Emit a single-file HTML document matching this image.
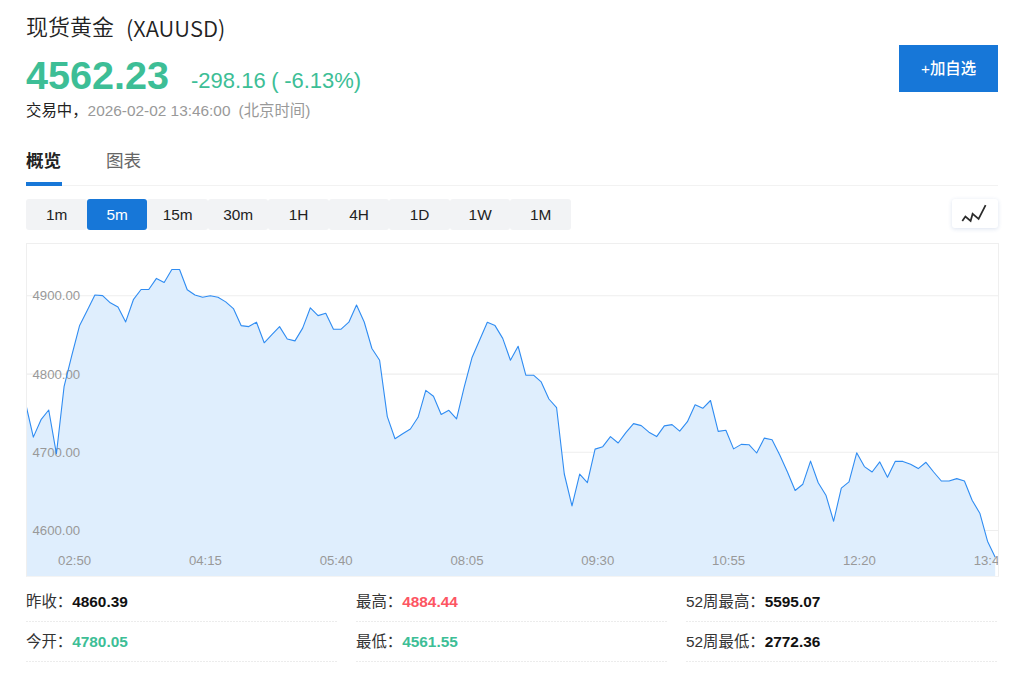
<!DOCTYPE html>
<html lang="zh-CN">
<head>
<meta charset="utf-8">
<title>现货黄金 (XAUUSD)</title>
<style>
*{box-sizing:border-box;margin:0;padding:0}
html,body{width:1024px;height:687px;overflow:hidden;background:#fff}
body{position:relative;font-family:"Liberation Sans","Noto Sans CJK SC",sans-serif;color:#333}
.abs{position:absolute;white-space:nowrap}
.title{left:26px;top:10px;font-size:22px;line-height:30px;color:#222;font-weight:350;font-family:"Noto Sans CJK SC",sans-serif}
.title .code{margin-left:12px;position:relative;top:2px}
.price{left:26px;top:52px;font-size:39.6px;line-height:46px;font-weight:bold;color:#3dbe96}
.chg{left:191px;top:67px;font-size:22px;line-height:28px;color:#3dbe96;word-spacing:-0.5px}
.status{left:26px;top:101px;font-size:15.4px;line-height:20px;color:#222}
.status .t{color:#999}
.status .tz{color:#999;margin-left:8px}
.btn{left:899px;top:45px;width:99px;height:46.5px;background:#1777d8;color:#fff;font-size:15.4px;font-weight:500;line-height:47.5px;text-align:center}
.tabs{left:26px;top:146px;width:972px;height:40px;border-bottom:1px solid #f2f2f2}
.tab{position:absolute;top:1px;font-size:17.6px;line-height:28px}
.tab.on{left:0;color:#222;font-weight:bold}
.tab.off{left:80px;color:#666}
.tab.on:after{content:"";position:absolute;left:0;width:36px;top:35.2px;height:3.4px;background:#1777d8}
.periods{left:26.4px;top:199px;height:30px;display:flex}
.periods span{display:block;width:60.5px;height:30.5px;line-height:32px;text-align:center;font-size:15.4px;color:#222;background:#f2f3f5;border-radius:3px}
.periods span.on{background:#1777d8;color:#fff;border-radius:3px}
.ico{left:952px;top:199px;width:46px;height:29px;background:#fff;border-radius:3px;box-shadow:0 1px 4px rgba(40,80,160,.16)}
.chart{left:26px;top:243px;width:973px;height:334px;border:1px solid #efefef;border-bottom-color:#f4f4f4;overflow:hidden}
.chart svg{position:absolute;left:-1px;top:-1px}
.yl{font-family:"Liberation Sans",sans-serif;font-size:13.2px;fill:#999}
.xl{font-family:"Liberation Sans",sans-serif;font-size:13.2px;fill:#999}
.stats{left:26px;top:582px;width:972px}
.row{position:absolute;height:40px;background:repeating-linear-gradient(to right,#ececec 0 2px,transparent 2px 3px) left bottom/100% 1px no-repeat;font-size:15.4px;line-height:40.5px;color:#333}
.row b{font-weight:bold}
.g{color:#3dbe96}.r{color:#fd5562}.k{color:#111}
</style>
</head>
<body>
<div class="abs title">现货黄金<span class="code">(XAUUSD)</span></div>
<div class="abs price">4562.23</div>
<div class="abs chg">-298.16 ( -6.13%)</div>
<div class="abs status">交易中，<span class="t">2026-02-02 13:46:00</span><span class="tz">(北京时间)</span></div>
<div class="abs btn">+加自选</div>

<div class="abs tabs">
  <div class="tab on">概览</div>
  <div class="tab off">图表</div>
</div>

<div class="abs periods">
  <span>1m</span><span class="on">5m</span><span>15m</span><span>30m</span><span>1H</span><span>4H</span><span>1D</span><span>1W</span><span>1M</span>
</div>
<div class="abs ico">
  <svg width="46" height="29" viewBox="0 0 46 29"><polyline points="10.3,21.9 13.4,17.6 18.6,21.9 20.6,14.9 26.6,19.9 33.6,6.2" fill="none" stroke="#2b2b2b" stroke-width="1.75" stroke-linejoin="miter"/></svg>
</div>

<div class="abs chart">
  <svg width="973" height="334" viewBox="0 0 973 334">
    <line x1="0" x2="973" y1="52.8" y2="52.8" stroke="#eeeeee" stroke-width="1.1"/><line x1="0" x2="973" y1="131.1" y2="131.1" stroke="#eeeeee" stroke-width="1.1"/><line x1="0" x2="973" y1="209.3" y2="209.3" stroke="#eeeeee" stroke-width="1.1"/><line x1="0" x2="973" y1="287.5" y2="287.5" stroke="#eeeeee" stroke-width="1.1"/>
    <path d="M-0.36,333 L-0.36,160.50 L7.34,194.10 L15.03,176.70 L22.73,167.00 L30.42,210.80 L38.12,143.30 L45.81,112.30 L53.50,82.80 L61.20,67.50 L68.89,52.00 L76.59,52.60 L84.29,59.80 L91.98,64.00 L99.67,78.90 L107.37,56.70 L115.06,46.50 L122.76,46.50 L130.45,35.40 L138.15,39.50 L145.85,26.50 L153.54,26.50 L161.24,46.80 L168.93,52.00 L176.62,54.20 L184.32,52.80 L192.01,54.20 L199.71,58.90 L207.41,65.60 L215.10,82.60 L222.80,83.60 L230.49,79.20 L238.19,99.80 L245.88,91.70 L253.57,83.60 L261.27,96.00 L268.96,97.90 L276.66,85.10 L284.36,64.80 L292.05,72.60 L299.75,70.30 L307.44,86.20 L315.13,86.20 L322.83,79.20 L330.52,62.00 L338.22,79.00 L345.92,105.50 L353.61,117.20 L361.31,173.60 L369.00,195.75 L376.69,190.75 L384.39,186.00 L392.08,174.30 L399.78,147.40 L407.48,153.30 L415.17,171.50 L422.87,167.30 L430.56,175.90 L438.25,143.90 L445.95,114.80 L453.64,97.00 L461.34,79.30 L469.04,82.60 L476.73,95.40 L484.43,117.20 L492.12,103.25 L499.82,132.20 L507.51,132.20 L515.21,138.90 L522.90,156.00 L530.60,164.70 L538.29,231.00 L545.99,262.90 L553.68,231.10 L561.38,239.60 L569.07,206.10 L576.76,203.70 L584.46,193.60 L592.15,200.00 L599.85,189.70 L607.54,180.60 L615.24,182.60 L622.94,189.20 L630.63,193.60 L638.33,182.90 L646.02,181.60 L653.72,188.10 L661.41,178.70 L669.11,161.80 L676.80,165.30 L684.50,157.50 L692.19,188.40 L699.88,187.30 L707.58,205.90 L715.27,201.40 L722.97,201.70 L730.66,210.00 L738.36,195.10 L746.06,196.70 L753.75,212.00 L761.45,229.00 L769.14,247.50 L776.84,241.20 L784.53,218.10 L792.23,239.80 L799.92,252.20 L807.62,278.25 L815.31,245.10 L823.00,238.90 L830.70,209.80 L838.39,223.60 L846.09,229.00 L853.78,218.90 L861.48,234.20 L869.18,218.40 L876.87,218.40 L884.57,221.20 L892.26,225.60 L899.96,219.30 L907.65,229.00 L915.35,238.00 L923.04,238.00 L930.74,235.60 L938.43,238.00 L946.12,257.30 L953.82,270.20 L961.51,298.20 L969.21,314.20 L969.21,333 Z" fill="#dfeefd"/>
    <text x="6.5" y="57.2" class="yl">4900.00</text><text x="6.5" y="135.5" class="yl">4800.00</text><text x="6.5" y="213.7" class="yl">4700.00</text><text x="6.5" y="291.9" class="yl">4600.00</text>
    <text x="48.6" y="322.0" class="xl" text-anchor="middle">02:50</text><text x="179.4" y="322.0" class="xl" text-anchor="middle">04:15</text><text x="310.2" y="322.0" class="xl" text-anchor="middle">05:40</text><text x="441.0" y="322.0" class="xl" text-anchor="middle">08:05</text><text x="571.8" y="322.0" class="xl" text-anchor="middle">09:30</text><text x="702.6" y="322.0" class="xl" text-anchor="middle">10:55</text><text x="833.4" y="322.0" class="xl" text-anchor="middle">12:20</text><text x="964.2" y="322.0" class="xl" text-anchor="middle">13:45</text>
    <polyline points="-0.36,160.50 7.34,194.10 15.03,176.70 22.73,167.00 30.42,210.80 38.12,143.30 45.81,112.30 53.50,82.80 61.20,67.50 68.89,52.00 76.59,52.60 84.29,59.80 91.98,64.00 99.67,78.90 107.37,56.70 115.06,46.50 122.76,46.50 130.45,35.40 138.15,39.50 145.85,26.50 153.54,26.50 161.24,46.80 168.93,52.00 176.62,54.20 184.32,52.80 192.01,54.20 199.71,58.90 207.41,65.60 215.10,82.60 222.80,83.60 230.49,79.20 238.19,99.80 245.88,91.70 253.57,83.60 261.27,96.00 268.96,97.90 276.66,85.10 284.36,64.80 292.05,72.60 299.75,70.30 307.44,86.20 315.13,86.20 322.83,79.20 330.52,62.00 338.22,79.00 345.92,105.50 353.61,117.20 361.31,173.60 369.00,195.75 376.69,190.75 384.39,186.00 392.08,174.30 399.78,147.40 407.48,153.30 415.17,171.50 422.87,167.30 430.56,175.90 438.25,143.90 445.95,114.80 453.64,97.00 461.34,79.30 469.04,82.60 476.73,95.40 484.43,117.20 492.12,103.25 499.82,132.20 507.51,132.20 515.21,138.90 522.90,156.00 530.60,164.70 538.29,231.00 545.99,262.90 553.68,231.10 561.38,239.60 569.07,206.10 576.76,203.70 584.46,193.60 592.15,200.00 599.85,189.70 607.54,180.60 615.24,182.60 622.94,189.20 630.63,193.60 638.33,182.90 646.02,181.60 653.72,188.10 661.41,178.70 669.11,161.80 676.80,165.30 684.50,157.50 692.19,188.40 699.88,187.30 707.58,205.90 715.27,201.40 722.97,201.70 730.66,210.00 738.36,195.10 746.06,196.70 753.75,212.00 761.45,229.00 769.14,247.50 776.84,241.20 784.53,218.10 792.23,239.80 799.92,252.20 807.62,278.25 815.31,245.10 823.00,238.90 830.70,209.80 838.39,223.60 846.09,229.00 853.78,218.90 861.48,234.20 869.18,218.40 876.87,218.40 884.57,221.20 892.26,225.60 899.96,219.30 907.65,229.00 915.35,238.00 923.04,238.00 930.74,235.60 938.43,238.00 946.12,257.30 953.82,270.20 961.51,298.20 969.21,314.20" fill="none" stroke="#2f8cf2" stroke-width="1.1" stroke-linejoin="round"/>
  </svg>
</div>

<div class="abs row" style="left:26px;top:582px;width:312px">昨收：<b class="k">4860.39</b></div>
<div class="abs row" style="left:356px;top:582px;width:311px">最高：<b class="r">4884.44</b></div>
<div class="abs row" style="left:686px;top:582px;width:312px">52周最高：<b class="k">5595.07</b></div>
<div class="abs row" style="left:26px;top:622px;width:312px">今开：<b class="g">4780.05</b></div>
<div class="abs row" style="left:356px;top:622px;width:311px">最低：<b class="g">4561.55</b></div>
<div class="abs row" style="left:686px;top:622px;width:312px">52周最低：<b class="k">2772.36</b></div>
</body>
</html>
